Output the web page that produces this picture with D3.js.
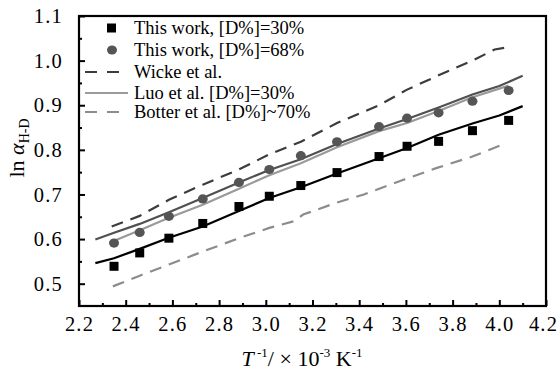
<!DOCTYPE html>
<html>
<head>
<meta charset="utf-8">
<script src="https://cdn.jsdelivr.net/npm/d3@7"></script>
<style>
  body { margin: 0; background: #fff; }
  svg text { font-family: "Liberation Serif", "Times New Roman", serif; fill: #000; }
</style>
</head>
<body>
<div id="chart"></div>
<script>
// measured points, x = 1/T (10^-3 K^-1), y = ln alpha
const xWork = [2.35, 2.46, 2.585, 2.73, 2.885, 3.015, 3.15, 3.305, 3.485, 3.605, 3.74, 3.885, 4.04];
const work30 = [0.539, 0.569, 0.602, 0.635, 0.673, 0.696, 0.720, 0.749, 0.785, 0.808, 0.819, 0.843, 0.866];
const work68 = [0.591, 0.615, 0.651, 0.690, 0.727, 0.756, 0.787, 0.818, 0.852, 0.871, 0.883, 0.909, 0.933];

// fitted / literature curves
const fit30X = [2.27, 2.35, 2.46, 2.585, 2.73, 2.885, 3.015, 3.15, 3.305, 3.485, 3.605, 3.74, 3.885, 4.0, 4.1];
const fit30Y = [0.546, 0.557, 0.578, 0.603, 0.628, 0.663, 0.692, 0.716, 0.747, 0.781, 0.804, 0.834, 0.859, 0.877, 0.898];
const fit68X = [2.27, 2.35, 2.46, 2.585, 2.73, 2.885, 3.015, 3.15, 3.305, 3.485, 3.605, 3.74, 3.885, 4.0, 4.1];
const fit68Y = [0.599, 0.614, 0.634, 0.660, 0.692, 0.727, 0.755, 0.779, 0.813, 0.848, 0.869, 0.895, 0.924, 0.943, 0.966];
const luoX = [2.33, 2.46, 2.585, 2.73, 2.885, 3.015, 3.15, 3.305, 3.485, 3.605, 3.74, 3.885, 4.04];
const luoY = [0.592, 0.620, 0.648, 0.677, 0.713, 0.743, 0.770, 0.806, 0.842, 0.860, 0.887, 0.918, 0.944];
const wickeX = [2.34, 2.46, 2.585, 2.73, 2.885, 3.015, 3.15, 3.305, 3.485, 3.605, 3.74, 3.885, 3.98, 4.04];
const wickeY = [0.628, 0.652, 0.688, 0.722, 0.756, 0.790, 0.818, 0.860, 0.900, 0.935, 0.967, 1.000, 1.025, 1.030];
const botterX = [2.345, 2.46, 2.585, 2.73, 2.885, 3.015, 3.12, 3.16, 3.3, 3.42, 3.59, 3.73, 3.885, 4.03];
const botterY = [0.494, 0.518, 0.543, 0.572, 0.602, 0.625, 0.640, 0.655, 0.681, 0.700, 0.733, 0.759, 0.785, 0.815];

const xTicks = [2.2, 2.4, 2.6, 2.8, 3.0, 3.2, 3.4, 3.6, 3.8, 4.0, 4.2];
const yTicks = [0.5, 0.6, 0.7, 0.8, 0.9, 1.0, 1.1];

const legendLabels = ["This work, [D%]=30%", "This work, [D%]=68%", "Wicke et al.",
                      "Luo et al. [D%]=30%", "Botter et al. [D%]~70%"];

const width = 560, height = 376;
const margin = {top: 16, right: 14, bottom: 70, left: 79};

const svg = d3.select("#chart").append("svg")
  .attr("width", width).attr("height", height);

const x = d3.scaleLinear().domain([2.2, 4.2]).range([margin.left, width - margin.right]);
const y = d3.scaleLinear().domain([0.45, 1.1]).range([height - margin.bottom, margin.top]);

const pts = (xs, ys) => xs.map((v, i) => [v, ys[i]]);
const line = d3.line().x(d => x(d[0])).y(d => y(d[1]));

// curves
const series = [
  {data: pts(botterX, botterY), color: "#8c8c8c", dash: "12,8"},
  {data: pts(wickeX, wickeY), color: "#3c3c3c", dash: "12,8"},
  {data: pts(luoX, luoY), color: "#9a9a9a", dash: null},
  {data: pts(fit68X, fit68Y), color: "#505050", dash: null},
  {data: pts(fit30X, fit30Y), color: "#000", dash: null}
];
for (let s of series) {
  svg.append("path").datum(s.data)
    .attr("d", line)
    .attr("fill", "none")
    .attr("stroke", s.color)
    .attr("stroke-width", 2.2)
    .attr("stroke-dasharray", s.dash);
}

// markers
svg.append("g").selectAll("ellipse").data(pts(xWork, work68)).enter().append("ellipse")
  .attr("cx", d => x(d[0])).attr("cy", d => y(d[1]))
  .attr("rx", 5).attr("ry", 4.6)
  .attr("fill", "#555");
svg.append("g").selectAll("rect").data(pts(xWork, work30)).enter().append("rect")
  .attr("x", d => x(d[0]) - 4.5).attr("y", d => y(d[1]) - 4.5)
  .attr("width", 9).attr("height", 9)
  .attr("fill", "#000");

// axes, ticks pointing inward
const xMinor = d3.range(2.3, 4.2, 0.2);
const yMinor = d3.range(0.55, 1.1, 0.1);
const xAxis = svg.append("g").attr("transform", "translate(0," + y(0.45) + ")");
xAxis.call(d3.axisBottom(x).tickValues(xTicks).tickSize(-6).tickPadding(10).tickFormat(d3.format(".1f")));
xAxis.append("g").call(d3.axisBottom(x).tickValues(xMinor).tickSize(-3).tickFormat(""));
const yAxis = svg.append("g").attr("transform", "translate(" + x(2.2) + ",0)");
yAxis.call(d3.axisLeft(y).tickValues(yTicks).tickSize(-6).tickPadding(16).tickFormat(d3.format(".1f")));
yAxis.append("g").call(d3.axisLeft(y).tickValues(yMinor).tickSize(-3).tickFormat(""));
svg.selectAll(".domain").remove();
svg.selectAll(".tick line").attr("stroke", "#000").attr("stroke-width", 2);
svg.selectAll(".tick text").attr("font-size", 20.5).attr("letter-spacing", 1.2)
  .attr("font-family", "Liberation Serif");
xAxis.selectAll(".tick text").filter(d => d === 4.2).attr("dx", -3);

// frame
svg.append("rect")
  .attr("x", x(2.2)).attr("y", y(1.1))
  .attr("width", x(4.2) - x(2.2)).attr("height", y(0.45) - y(1.1))
  .attr("fill", "none").attr("stroke", "#000").attr("stroke-width", 2.2);

// legend
const legY = [28, 50, 72, 93, 112];
const leg = svg.append("g");
legendLabels.forEach((t, i) => {
  const ly = legY[i];
  if (i === 0) leg.append("rect").attr("x", 107).attr("y", ly - 4.5).attr("width", 9).attr("height", 9).attr("fill", "#000");
  if (i === 1) leg.append("ellipse").attr("cx", 112).attr("cy", ly).attr("rx", 5).attr("ry", 4.6).attr("fill", "#555");
  if (i === 2) leg.append("line").attr("x1", 85).attr("x2", 128).attr("y1", ly).attr("y2", ly)
    .attr("stroke", "#3c3c3c").attr("stroke-width", 2.2).attr("stroke-dasharray", "12,10");
  if (i === 3) leg.append("line").attr("x1", 85).attr("x2", 128).attr("y1", ly).attr("y2", ly)
    .attr("stroke", "#9a9a9a").attr("stroke-width", 2.2);
  if (i === 4) leg.append("line").attr("x1", 85).attr("x2", 128).attr("y1", ly).attr("y2", ly)
    .attr("stroke", "#8c8c8c").attr("stroke-width", 2.2).attr("stroke-dasharray", "12,10");
  leg.append("text").attr("x", 134).attr("y", ly + 6).attr("font-size", 18.5).text(t);
});

// y title
const yt = svg.append("text")
  .attr("transform", "translate(24," + 148 + ") rotate(-90)")
  .attr("text-anchor", "middle").attr("font-size", 22);
yt.append("tspan").text("ln ");
yt.append("tspan").attr("font-style", "italic").text("α");
yt.append("tspan").attr("font-size", 14).attr("dy", 5).text("H-D");

// x title
const xt = svg.append("text")
  .attr("x", 302).attr("y", 366)
  .attr("text-anchor", "middle").attr("font-size", 22);
xt.append("tspan").attr("font-style", "italic").text("T");
xt.append("tspan").attr("font-size", 13).attr("dy", -9).text(" -1");
xt.append("tspan").attr("dy", 9).text("/ × 10");
xt.append("tspan").attr("font-size", 13).attr("dy", -9).text("-3");
xt.append("tspan").attr("dy", 9).text(" K");
xt.append("tspan").attr("font-size", 13).attr("dy", -9).text("-1");
</script>
</body>
</html>
